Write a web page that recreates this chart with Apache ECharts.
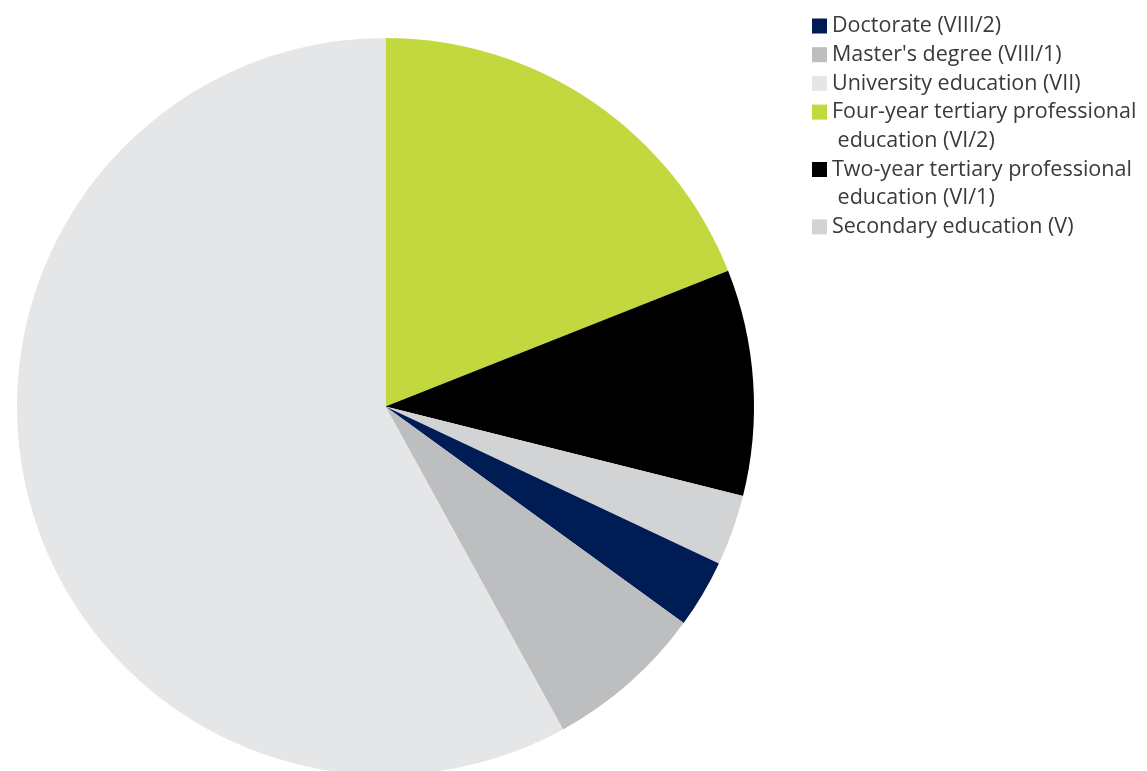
<!DOCTYPE html>
<html>
<head>
<meta charset="utf-8">
<script src="https://cdn.jsdelivr.net/npm/echarts@6/dist/echarts.min.js"></script>
<style>
  html, body { margin: 0; padding: 0; background: #ffffff; }
  #chart { width: 1147px; height: 771px; }
</style>
</head>
<body>
<div id="chart"></div>
<script>
// Share of employees by highest completed education level (%)
const sliceNames = [
  'Four-year tertiary professional education (VI/2)',
  'Two-year tertiary professional education (VI/1)',
  'Secondary education (V)',
  'Doctorate (VIII/2)',
  "Master's degree (VIII/1)",
  'University education (VII)'
];
const sliceValues = [19.0, 9.9, 3.1, 3.0, 7.0, 58.0];
const sliceColors = ['#c2d83e', '#000000', '#d1d3d4', '#001c54', '#bdbec0', '#e5e6e8'];

// Legend order and the way long names break onto a second line
const legendOrder = [
  'Doctorate (VIII/2)',
  "Master's degree (VIII/1)",
  'University education (VII)',
  'Four-year tertiary professional education (VI/2)',
  'Two-year tertiary professional education (VI/1)',
  'Secondary education (V)'
];
const legendLines = {
  'Four-year tertiary professional education (VI/2)': ['Four-year tertiary professional', ' education (VI/2)'],
  'Two-year tertiary professional education (VI/1)': ['Two-year tertiary professional', ' education (VI/1)']
};

const LINE_H = 28.7;
const FIRST_ROW = 26;

const chart = echarts.init(document.getElementById('chart'), null, { renderer: 'canvas' });

// One legend block per text line; continuation lines carry no colour square
const legends = [];
let row = 0;
legendOrder.forEach(function (name) {
  const lines = legendLines[name] || [name];
  lines.forEach(function (text, k) {
    const cy = FIRST_ROW + row * LINE_H;
    const block = {
      data: [name],
      orient: 'vertical',
      left: 812,
      top: cy - LINE_H / 2,
      padding: 0,
      itemWidth: 15,
      itemHeight: 15,
      itemGap: 0,
      icon: 'rect',
      selectedMode: false,
      formatter: function () { return text; },
      textStyle: {
        fontFamily: '"Open Sans", sans-serif',
        fontSize: 21.5,
        color: '#3a3a3a',
        lineHeight: LINE_H
      }
    };
    if (k > 0) {
      block.itemStyle = { color: 'rgba(0,0,0,0)', borderWidth: 0 };
    }
    legends.push(block);
    row += 1;
  });
});

chart.setOption({
  animation: false,
  backgroundColor: '#ffffff',
  legend: legends,
  series: [{
    type: 'pie',
    center: [385.5, 406.5],
    radius: 368.5,
    startAngle: 90,
    clockwise: true,
    label: { show: false },
    labelLine: { show: false },
    emphasis: { disabled: true },
    itemStyle: { borderWidth: 0 },
    data: sliceNames.map(function (n, i) {
      return { name: n, value: sliceValues[i], itemStyle: { color: sliceColors[i] } };
    })
  }]
});
</script>
</body>
</html>
